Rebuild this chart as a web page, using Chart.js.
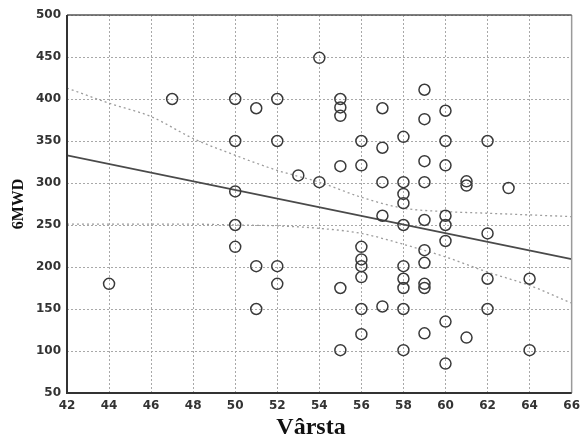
<!DOCTYPE html>
<html>
<head>
<meta charset="utf-8">
<script src="https://cdn.jsdelivr.net/npm/chart.js@4.4.1/dist/chart.umd.min.js"></script>
<style>
  html, body { margin: 0; padding: 0; background: #fff; }
  #wrap { position: relative; width: 586px; height: 441px; }
</style>
</head>
<body>
<div id="wrap"><canvas id="myChart" width="586" height="441"></canvas></div>
<script>
// patients: age (Vârsta) and 6-minute walk distance (6MWD)
const ageValues = [
  44, 47,
  50, 50, 50, 50, 50,
  51, 51, 51,
  52, 52, 52, 52,
  53,
  54, 54,
  55, 55, 55, 55, 55, 55,
  56, 56, 56, 56, 56, 56, 56, 56,
  57, 57, 57, 57, 57,
  58, 58, 58, 58, 58, 58, 58, 58, 58, 58,
  59, 59, 59, 59, 59, 59, 59, 59, 59, 59,
  60, 60, 60, 60, 60, 60, 60, 60,
  61, 61, 61,
  62, 62, 62, 62,
  63,
  64, 64,
];
const walkValues = [
  180, 400,
  400, 350, 290, 250, 224,
  389, 201, 150,
  400, 350, 201, 180,
  309,
  449, 301,
  400, 390, 380, 320, 175, 101,
  350, 321, 224, 209, 201, 188, 150, 120,
  389, 342, 301, 261, 153,
  355, 301, 287, 276, 250, 201, 186, 175, 150, 101,
  411, 376, 326, 301, 256, 220, 205, 180, 175, 121,
  386, 350, 321, 261, 250, 231, 135, 85,
  302, 297, 116,
  350, 240, 186, 150,
  294,
  186, 101,
];

// fitted line and its band
const fitAges = [42, 66];
const fitValues = [333, 209.5];
const bandAges = [42, 44, 46, 48, 50, 52, 54, 56, 58, 60, 62, 64, 66];
const bandUpper = [413, 395, 379, 353, 333, 315, 301, 283, 270, 266, 264, 262, 260];
const bandLower = [251, 251, 251, 251, 250, 249, 246, 240, 227, 212, 194, 178, 157];

const xTicks = [42, 44, 46, 48, 50, 52, 54, 56, 58, 60, 62, 64, 66];
const yTicks = [50, 100, 150, 200, 250, 300, 350, 400, 450, 500];

const toPts = (xs, ys) => xs.map((x, i) => ({ x: x, y: ys[i] }));

const frameAndTitles = {
  id: 'frameAndTitles',
  afterDraw(chart) {
    const { ctx, chartArea: { left, right, top, bottom } } = chart;
    ctx.save();
    // frame
    ctx.setLineDash([]);
    ctx.strokeStyle = '#9a9a9a';
    ctx.lineWidth = 1.5;
    ctx.beginPath();
    ctx.moveTo(right, top);
    ctx.lineTo(right, bottom);
    ctx.stroke();
    ctx.strokeStyle = '#555';
    ctx.lineWidth = 1.5;
    ctx.beginPath();
    ctx.moveTo(left, top);
    ctx.lineTo(right, top);
    ctx.stroke();
    ctx.strokeStyle = '#333';
    ctx.lineWidth = 2;
    ctx.beginPath();
    ctx.moveTo(left, top);
    ctx.lineTo(left, bottom);
    ctx.lineTo(right, bottom);
    ctx.stroke();

    // axis titles
    ctx.fillStyle = '#111';
    ctx.textAlign = 'center';
    ctx.textBaseline = 'middle';
    ctx.font = 'bold 24px "Liberation Serif", "Times New Roman", serif';
    ctx.fillText('Vârsta', 311, 428);
    ctx.translate(19, 204);
    ctx.rotate(-Math.PI / 2);
    ctx.font = 'bold 16px "Liberation Serif", "Times New Roman", serif';
    ctx.fillText('6MWD', 0, 0);
    ctx.restore();
  },
};

const ctx = document.getElementById('myChart').getContext('2d');

const tickFont = { family: '"DejaVu Sans", Arial, sans-serif', size: 12, weight: 'bold' };

const config = {
  type: 'scatter',
  data: {
    datasets: [
      {
        label: 'pacienti',
        data: toPts(ageValues, walkValues),
        pointStyle: 'circle',
        pointRadius: 5.5,
        pointHoverRadius: 5.5,
        borderColor: '#3a3a3a',
        borderWidth: 1.5,
        backgroundColor: 'rgba(0,0,0,0)',
        order: 0,
      },
      {
        label: 'regresie',
        type: 'line',
        data: toPts(fitAges, fitValues),
        borderColor: '#4a4a4a',
        borderWidth: 1.8,
        pointRadius: 0,
        fill: false,
        order: 1,
      },
      {
        label: 'sup',
        type: 'line',
        data: toPts(bandAges, bandUpper),
        borderColor: '#9d9d9d',
        borderWidth: 1.3,
        borderDash: [2, 3],
        pointRadius: 0,
        cubicInterpolationMode: 'monotone',
        fill: false,
        order: 2,
      },
      {
        label: 'inf',
        type: 'line',
        data: toPts(bandAges, bandLower),
        borderColor: '#9d9d9d',
        borderWidth: 1.3,
        borderDash: [2, 3],
        pointRadius: 0,
        cubicInterpolationMode: 'monotone',
        fill: false,
        order: 2,
      },
    ],
  },
  options: {
    responsive: false,
    animation: false,
    layout: {
      padding: { left: 0, right: 7, top: 15, bottom: 0 },
    },
    plugins: {
      legend: { display: false },
      tooltip: { enabled: false },
    },
    scales: {
      x: {
        type: 'linear',
        min: 42,
        max: 66,
        afterFit: (scale) => { scale.height = 48; },
        afterBuildTicks: (scale) => { scale.ticks = xTicks.map((v) => ({ value: v })); },
        border: { display: false, dash: [2, 2] },
        grid: { color: '#a8a8a8', lineWidth: 1, drawTicks: false },
        ticks: { padding: 6, color: '#333', font: tickFont },
      },
      y: {
        min: 50,
        max: 500,
        afterFit: (scale) => { scale.width = 67; },
        afterBuildTicks: (scale) => { scale.ticks = yTicks.map((v) => ({ value: v })); },
        border: { display: false, dash: [2, 2] },
        grid: { color: '#a8a8a8', lineWidth: 1, drawTicks: false },
        ticks: { padding: 6, color: '#333', font: tickFont },
      },
    },
  },
  plugins: [frameAndTitles],
};

const scatterChart = new Chart(ctx, config);
</script>
</body>
</html>
